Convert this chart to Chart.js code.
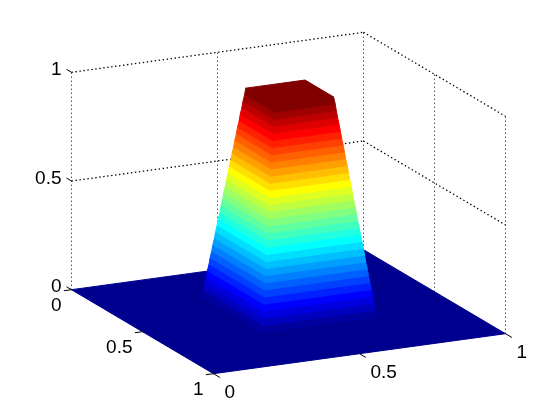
<!DOCTYPE html>
<html>
<head>
<meta charset="utf-8">
<style>html,body{margin:0;padding:0;background:#fff}canvas{display:block}</style>
<script src="https://cdn.jsdelivr.net/npm/chart.js@4"></script>
</head>
<body>
<canvas id="c" width="560" height="420"></canvas>
<script>
// ---- data ----
const tickValues = [0, 0.5, 1];
const tickLabels = ['0', '0.5', '1'];
// surface rungs: one entry per colour band boundary of the raised block
const zLevels = [0,.03125,.0625,.09375,.125,.15625,.1875,.21875,.25,.28125,.3125,.34375,.375,.40625,.4375,.46875,.5,.53125,.5625,.59375,.625,.65625,.6875,.71875,.75,.78125,.8125,.84375,.875,.90625,.9375,.96875,1];
const xLow  = [.330,.333,.335,.338,.340,.343,.345,.348,.350,.353,.355,.358,.360,.363,.365,.368,.370,.373,.375,.378,.380,.383,.385,.388,.390,.393,.395,.398,.400,.403,.405,.408,.410];
const xHigh = [.720,.717,.713,.710,.707,.703,.700,.697,.693,.690,.687,.683,.680,.677,.673,.670,.667,.663,.660,.657,.653,.650,.647,.643,.640,.637,.633,.630,.627,.623,.620,.617,.613];
const yLow  = [.240,.245,.249,.254,.258,.263,.267,.272,.276,.281,.285,.290,.294,.299,.303,.308,.312,.317,.321,.326,.330,.335,.339,.344,.348,.353,.357,.362,.366,.371,.375,.380,.384];
const yHigh = [.668,.665,.663,.660,.658,.655,.652,.650,.647,.645,.642,.640,.637,.634,.632,.629,.627,.624,.621,.619,.616,.614,.611,.608,.606,.603,.601,.598,.595,.593,.590,.588,.585];

// ---- view: orthographic projection of the 3D box into the 2D scale space ----
const view = { ox: 71.5, oy: 289.7, xdx: 292, xdy: -40, ydx: 142, ydy: 84, zdy: 217.4 };
function project(x, y, z) {
  return { x: view.ox + x * view.xdx + y * view.ydx,
           y: view.oy + x * view.xdy + y * view.ydy - z * view.zdy };
}
// 64-step colour map, entry k = 1..64
function jet(k) {
  const t = k / 64;
  const c = v => Math.round(255 * Math.max(0, Math.min(1, v)));
  return `rgb(${c(1.5 - Math.abs(4 * t - 3))},${c(1.5 - Math.abs(4 * t - 2))},${c(1.5 - Math.abs(4 * t - 1))})`;
}

const datasets = [];
function poly(points, color) {
  const pts = points.map(p => project(p[0], p[1], p[2]));
  pts.push(pts[0]);
  datasets.push({ data: pts, fill: 'shape', backgroundColor: color, borderColor: color,
                  borderWidth: 1, pointRadius: 0, tension: 0, clip: false });
}
function seg(a, b, style) {
  const s = { solid: [1, []], vertical: [1, [1, 3]], slanted: [1.3, [1.4, 2.6]] }[style];
  datasets.push({ data: [project(a[0], a[1], a[2]), project(b[0], b[1], b[2])], fill: false,
                  borderColor: '#000', borderWidth: s[0], borderDash: s[1],
                  pointRadius: 0, tension: 0, clip: false });
}

// dotted walls
tickValues.forEach(v => {
  seg([v, 0, 0], [v, 0, 1], 'vertical');
  if (v > 0) {
    seg([1, v, 0], [1, v, 1], 'vertical');
    seg([0, 0, v], [1, 0, v], 'slanted');
    seg([1, 0, v], [1, 1, v], 'slanted');
  }
});
// flat floor of the surface
poly([[0,0,0],[1,0,0],[1,1,0],[0,1,0]], jet(1));
// two visible sides of the raised block, one band per rung
for (let i = 0; i < zLevels.length - 1; i++) {
  const col = jet(2 * (i + 1));
  const z0 = zLevels[i], z1 = zLevels[i + 1];
  poly([[xLow[i],yLow[i],z0],[xLow[i],yHigh[i],z0],[xLow[i+1],yHigh[i+1],z1],[xLow[i+1],yLow[i+1],z1]], col);
  poly([[xLow[i],yHigh[i],z0],[xHigh[i],yHigh[i],z0],[xHigh[i+1],yHigh[i+1],z1],[xLow[i+1],yHigh[i+1],z1]], col);
}
// plateau
const n = zLevels.length - 1;
poly([[xLow[n],yLow[n],1],[xHigh[n],yLow[n],1],[xHigh[n],yHigh[n],1],[xLow[n],yHigh[n],1]], jet(64));
// tick marks
tickValues.forEach(v => {
  seg([0, 0, v], [0, -0.035, v], 'solid');
  seg([0, v, 0], [-0.026, v, 0], 'solid');
  seg([v, 1, 0], [v, 1.045, 0], 'solid');
});
// Chart.js paints low "order" last on top: keep the push order as paint order
datasets.forEach((d, i) => { d.order = datasets.length - i; });

const tickText = {
  id: 'tickText',
  afterDatasetsDraw(chart) {
    const { ctx, scales } = chart;
    ctx.save();
    ctx.font = "19px 'Liberation Sans', Arial, sans-serif";
    ctx.fillStyle = '#000';
    ctx.textBaseline = 'middle';
    const put = (p, dx, dy, s, align) => {
      ctx.textAlign = align;
      ctx.fillText(s, scales.x.getPixelForValue(p.x) + dx, scales.y.getPixelForValue(p.y) + dy);
    };
    tickValues.forEach((v, i) => {
      put(project(0, 0, v), -10, -2.5, tickLabels[i], 'right');
      put(project(0, v, 0), -10, 16, tickLabels[i], 'right');
      put(project(v, 1, 0), 11, 19.5, tickLabels[i], 'left');
    });
    ctx.restore();
  }
};

new Chart(document.getElementById('c'), {
  type: 'line',
  data: { datasets },
  options: {
    responsive: false, animation: false, parsing: false, normalized: true,
    devicePixelRatio: 1,
    layout: { padding: 0 },
    plugins: { legend: { display: false }, tooltip: { enabled: false }, title: { display: false } },
    scales: {
      x: { type: 'linear', min: 0, max: 560, display: false },
      y: { type: 'linear', min: 0, max: 420, reverse: true, display: false }
    }
  },
  plugins: [tickText]
});
</script>
</body>
</html>
